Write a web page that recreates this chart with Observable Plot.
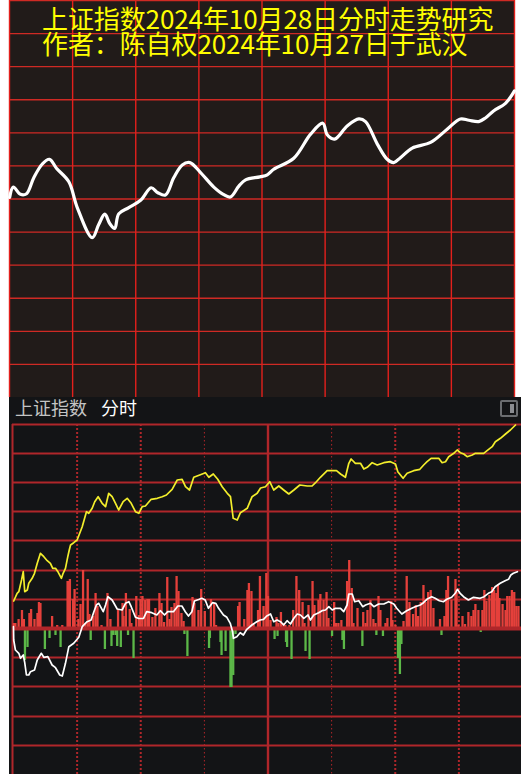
<!DOCTYPE html>
<html>
<head>
<meta charset="utf-8">
<script src="https://cdn.jsdelivr.net/npm/d3@7"></script>
<script src="https://cdn.jsdelivr.net/npm/@observablehq/plot@0.6"></script>
<style>
  html, body { margin: 0; padding: 0; background: #ffffff; }
  #wrap { position: relative; width: 521px; height: 774px; overflow: hidden; background: #ffffff; }
  #top { position: absolute; left: 0; top: 0; width: 521px; height: 397px; }
  #bottom { position: absolute; left: 9px; top: 397px; width: 512px; height: 377px; background: #131416; }
  #top svg, #bottom svg { position: absolute; left: 0; top: 0; }
  .title { position: absolute; left: 42px; color: #ffff00; font-family: "Noto Sans CJK SC", sans-serif;
           font-size: 26px; line-height: 26px; white-space: nowrap; z-index: 2; letter-spacing: -0.1px; }
  .hdr { position: absolute; top: 1px; font-family: "Noto Sans CJK SC", sans-serif; font-size: 18px;
         line-height: 18px; white-space: nowrap; z-index: 2; }
  #icon { position: absolute; left: 491px; top: 3px; width: 14px; height: 13px; border: 2px solid #6b6d70;
          border-radius: 2px; z-index: 2; }
  #icon div { position: absolute; right: 2px; top: 2px; width: 4px; height: 9px; background: #8a8c90; }
</style>
</head>
<body>
<div id="wrap">
  <div id="top">
    <div class="title" id="t1" style="top:5px"></div>
    <div class="title" id="t2" style="top:30px"></div>
  </div>
  <div id="bottom">
    <div class="hdr" id="h1" style="left:6px;color:#c4c4c4"></div>
    <div class="hdr" id="h2" style="left:92px;color:#ffffff"></div>
    <div id="icon"><div></div></div>
  </div>
</div>
<script>
// ---------- texts ----------
const titleLines = ["上证指数2024年10月28日分时走势研究", "作者：陈自权2024年10月27日于武汉"];
const headerLabels = ["上证指数", "分时"];

// ---------- top panel (hand-drawn forecast) ----------
// x: trading minute (0..240), y: grid level (0..12)
const topColMinutes = [0, 30, 60, 90, 120, 150, 180, 210, 240];
const topRowLevels = [1, 2, 3, 4, 5, 6, 7, 8, 9, 10, 11, 12];
const forecastSeries = [
  [0.1, 6.05], [1.8, 6.36], [5.2, 6.14], [8.1, 6.16], [11.6, 6.65], [15.5, 7.05], [19.0, 7.20],
  [22.3, 6.93], [28.2, 6.52], [32.2, 5.74], [39.3, 4.83], [42.4, 5.23], [45.3, 5.54], [47.7, 5.25],
  [50.0, 5.11], [51.9, 5.55], [56.7, 5.74], [62.3, 5.96], [67.3, 6.34], [70.5, 6.19], [74.1, 6.12],
  [78.1, 6.65], [82.1, 7.03], [85.7, 7.10], [90.8, 6.80], [97.1, 6.36], [101.6, 6.14], [105.0, 6.06],
  [109.0, 6.39], [112.2, 6.58], [119.0, 6.67], [122.5, 6.73], [125.6, 6.90], [135.1, 7.23],
  [143.1, 7.96], [148.9, 8.29], [151.0, 7.94], [154.5, 7.81], [160.5, 8.21], [166.0, 8.42],
  [169.2, 8.34], [174.8, 7.66], [179.5, 7.20], [182.6, 7.10], [185.8, 7.25], [191.4, 7.54],
  [200.1, 7.71], [208.0, 8.11], [214.3, 8.42], [218.3, 8.38], [223.0, 8.34], [226.2, 8.45],
  [230.2, 8.67], [235.7, 8.89], [240, 9.27]
];

// ---------- bottom panel (actual intraday screenshot) ----------
const bottomGridValues = [204, 175, 146, 117, 88, 58, 29, -29, -58, -88, -117];
const zeroLevel = [0];
const sessionOpen = [0];
const middayMinutes = [120];
const thickDotMinutes = [30, 60, 180, 210];
const thinDotMinutes = [90, 150];

const yellowSeries = [
  [0.1, 27.5], [1.7, 35.2], [2.5, 36.8], [3.8, 48.5], [4.6, 56.8], [5.3, 36.8], [6.5, 38.5],
  [7.2, 45.2], [8.8, 50.2], [9.9, 55.2], [11.2, 65.2], [12.7, 75.2], [14.3, 71.8], [15.9, 67.8],
  [17.4, 65.2], [18.5, 60.2], [19.8, 60.2], [21.1, 56.2], [22.6, 50.2], [23.4, 55.2], [24.5, 60.2],
  [25.6, 71.8], [26.3, 78.5], [26.9, 83.5], [28.4, 85.8], [30.0, 88.5], [32.4, 101.8], [34.4, 116.8],
  [35.5, 115.2], [37.1, 120.2], [38.3, 126.8], [39.9, 131.8], [41.8, 125.2], [43.4, 121.8],
  [44.9, 135.2], [46.5, 131.8], [48.1, 125.2], [49.6, 118.5], [51.7, 126.8], [53.6, 130.2],
  [55.5, 125.2], [57.5, 116.8], [59.1, 115.2], [60.7, 121.8], [62.2, 122.5], [64.9, 129.2],
  [67.8, 130.2], [70.1, 131.8], [72.1, 133.5], [74.8, 139.2], [77.2, 148.5], [79.5, 149.2],
  [81.1, 141.8], [83.0, 138.5], [85.0, 151.2], [87.8, 153.5], [90.5, 155.8], [92.1, 151.2],
  [94.2, 154.5], [96.3, 149.2], [98.4, 141.8], [100.8, 135.2], [102.3, 131.8], [103.6, 110.2],
  [105.5, 108.5], [107.0, 115.8], [110.2, 120.2], [112.5, 131.8], [114.9, 135.2], [116.5, 140.5],
  [118.8, 141.8], [120.8, 146.8], [122.7, 138.5], [125.1, 142.5], [127.4, 138.5], [129.8, 134.5],
  [132.2, 138.5], [135.0, 143.5], [138.5, 142.5], [140.8, 142.5], [142.4, 145.8], [144.7, 151.2],
  [147.9, 157.8], [152.3, 157.8], [154.2, 154.5], [156.5, 151.2], [158.1, 165.2], [159.2, 169.5],
  [161.2, 165.2], [163.6, 165.2], [165.2, 159.5], [166.8, 161.2], [169.1, 165.8], [171.5, 163.5],
  [174.6, 165.8], [177.7, 166.8], [180.1, 164.5], [181.2, 156.8], [183.7, 150.2], [185.6, 155.2],
  [188.7, 157.8], [191.6, 159.2], [193.4, 163.5], [195.0, 166.8], [196.9, 170.2], [200.5, 170.2],
  [202.1, 165.8], [203.7, 166.8], [205.2, 171.8], [207.6, 175.2], [209.2, 178.5], [210.7, 175.8],
  [212.3, 174.5], [213.9, 171.8], [216.3, 173.5], [217.8, 175.2], [221.7, 175.2], [223.3, 177.8],
  [225.7, 181.8], [227.2, 186.8], [229.6, 190.2], [232.0, 194.5], [234.3, 198.5], [236.7, 203.5]
];

const whiteSeries = [
  [0.0, 1.8], [0.1, -11.5], [0.9, -21.5], [2.5, -24.8], [3.3, -29.8], [4.6, -26.5], [5.3, -34.2],
  [6.1, -46.5], [7.2, -46.5], [8.0, -43.2], [9.9, -41.5], [11.2, -31.5], [13.1, -24.8], [14.3, -28.8],
  [16.2, -28.2], [18.2, -36.5], [19.8, -39.2], [21.8, -46.5], [23.0, -47.5], [24.5, -34.8],
  [26.1, -18.2], [28.4, -14.8], [30.8, -8.8], [32.4, 1.8], [34.7, 6.8], [36.6, 8.5], [37.9, 16.8],
  [39.1, 23.5], [40.2, 25.2], [42.3, 16.8], [43.4, 23.5], [44.5, 31.8], [46.5, 28.5], [48.9, 19.5],
  [51.2, 18.5], [52.8, 25.2], [54.4, 26.8], [55.5, 21.8], [57.5, 11.2], [59.1, 10.0], [61.3, 10.2],
  [62.8, 16.8], [65.2, 15.8], [67.6, 13.5], [69.2, 17.8], [71.2, 13.5], [72.7, 16.8], [75.4, 16.8],
  [77.5, 22.5], [79.4, 22.5], [81.0, 16.8], [82.5, 12.5], [84.1, 16.8], [85.3, 27.5], [87.6, 29.2],
  [88.8, 30.2], [90.4, 28.5], [91.9, 20.2], [93.8, 25.8], [95.4, 25.2], [96.7, 20.2], [99.0, 13.5],
  [100.6, 11.2], [102.2, 5.2], [103.3, -3.2], [103.7, -9.8], [105.3, -8.2], [106.9, -4.2],
  [108.4, -6.5], [110.0, -0.8], [112.4, 3.5], [114.7, 6.8], [116.3, 8.5], [117.9, 9.2], [119.4, 12.5],
  [121.2, 14.5], [122.7, 6.8], [124.3, 8.5], [125.9, 6.8], [127.4, 3.5], [129.0, 7.8], [130.6, 4.5],
  [132.2, 10.2], [133.8, 14.5], [135.3, 13.5], [136.9, 10.2], [138.9, 13.5], [140.0, 8.5],
  [141.6, 13.5], [143.9, 15.8], [145.5, 17.8], [147.1, 18.5], [148.7, 21.8], [150.3, 18.5],
  [151.8, 20.2], [154.2, 20.2], [155.7, 16.8], [157.3, 23.5], [158.1, 34.5], [159.7, 34.5],
  [160.9, 26.8], [162.8, 27.8], [164.7, 21.8], [166.0, 23.5], [168.3, 25.2], [169.9, 21.8],
  [172.2, 24.5], [174.6, 24.5], [176.9, 26.8], [179.3, 24.5], [180.7, 20.2], [183.1, 14.5],
  [185.4, 17.8], [187.8, 20.2], [189.4, 21.8], [191.8, 23.5], [193.3, 25.8], [194.9, 29.2],
  [197.2, 31.8], [198.8, 30.2], [200.8, 27.8], [202.7, 26.8], [204.3, 29.2], [206.6, 31.2],
  [208.3, 35.2], [209.3, 39.2], [210.6, 35.2], [212.2, 31.8], [214.5, 28.5], [216.9, 31.2],
  [220.0, 30.2], [221.9, 31.8], [223.9, 35.2], [225.5, 36.8], [227.1, 41.8], [229.5, 45.2],
  [231.8, 47.8], [233.4, 49.2], [234.5, 53.5], [235.7, 55.2], [237.6, 56.8]
];

// red (positive) and green (negative) strength bars: [minute, value]
const barSeries = [
  [0.2, 5], [0.9, 5], [2.4, 9], [4.0, 18], [4.9, 9], [7.5, 15], [8.3, 19], [9.9, 9], [11.3, 15],
  [12.0, 26], [12.7, 25], [18.2, 12], [20.6, 3], [23.0, 3], [25.5, 47], [26.2, 47], [26.6, 49],
  [28.1, 29], [28.8, 39], [30.6, 9], [31.6, 24], [32.8, 58], [33.9, 5], [35.0, 49], [35.8, 14],
  [37.6, 12], [38.7, 35], [39.6, 22], [41.5, 3], [44.3, 35], [45.7, 9], [49.3, 19], [51.4, 25],
  [51.9, 12], [53.0, 35], [54.8, 19], [55.6, 5], [57.9, 32], [59.2, 13], [59.9, 29], [60.8, 32],
  [62.1, 28], [63.2, 29], [63.9, 29], [65.5, 11], [66.9, 20], [68.8, 35], [69.8, 25], [71.0, 6],
  [72.5, 51], [73.6, 9], [74.5, 21], [75.9, 25], [76.9, 52], [77.8, 37], [79.2, 15], [80.2, 7],
  [84.4, 31], [85.3, 25], [87.2, 18], [88.5, 39], [90.2, 17], [93.1, 29], [94.6, 25], [95.5, 3],
  [105.9, 22], [106.6, 26], [108.8, 9], [110.3, 38], [111.0, 45], [112.2, 37], [113.2, 5],
  [115.3, 18], [116.2, 52], [117.9, 22], [119.2, 55], [120.0, 32], [121.2, 8], [124.0, 11],
  [124.9, 5], [126.1, 16], [127.3, 5], [128.2, 3], [130.1, 3], [131.9, 18], [133.4, 52], [134.7, 38],
  [136.3, 26], [137.2, 5], [139.1, 23], [141.0, 47], [141.9, 23], [143.8, 28], [144.7, 34],
  [146.2, 28], [147.6, 36], [148.5, 10], [151.2, 26], [152.1, 5], [153.2, 5], [154.6, 8],
  [157.3, 47], [158.3, 68], [159.5, 40], [160.3, 5], [162.2, 20], [164.9, 16], [166.0, 5],
  [166.9, 18], [168.3, 28], [169.7, 9], [170.7, 5], [172.1, 32], [173.0, 18], [175.4, 5],
  [176.3, 10], [178.1, 27], [178.7, 8], [180.1, 3], [183.9, 7], [185.4, 52], [186.1, 16],
  [186.7, 26], [188.4, 14], [189.7, 23], [190.8, 12], [192.0, 26], [193.3, 43], [194.2, 26],
  [195.5, 36], [196.7, 38], [198.0, 20], [201.1, 9], [203.2, 12], [204.1, 38], [204.9, 52],
  [206.5, 28], [208.4, 49], [208.9, 36], [209.8, 3], [211.7, 12], [212.9, 4], [214.5, 16],
  [215.9, 12], [216.9, 18], [217.8, 24], [219.2, 18], [221.1, 18], [222.0, 38], [223.0, 27],
  [224.4, 33], [225.7, 41], [226.6, 38], [227.7, 35], [228.4, 43], [229.1, 30], [230.6, 24],
  [232.0, 18], [232.8, 32], [233.9, 32], [235.0, 38], [236.1, 36], [237.1, 22], [238.1, 22],
  [5.4, -32], [6.6, -19], [14.8, -21], [17.0, -10], [19.8, -7], [22.2, -19], [36.4, -12],
  [43.1, -21], [46.2, -18], [46.9, -7], [48.1, -7], [48.9, -18], [50.6, -19], [54.0, -7],
  [56.6, -30], [80.6, -6], [82.0, -28], [92.2, -20], [92.6, -10], [97.6, -14], [98.1, -27],
  [100.0, -23], [102.3, -59], [102.8, -59], [103.6, -47], [104.7, -6], [123.1, -11], [124.5, -8],
  [128.5, -14], [129.0, -19], [131.1, -31], [137.7, -23], [139.6, -31], [150.2, -8], [155.1, -12],
  [155.8, -21], [164.5, -18], [171.1, -7], [174.2, -8], [181.3, -30], [182.2, -46], [182.9, -16],
  [201.8, -7], [220.3, -4]
];

// ---------- colors ----------
const topBg = "#211b19";
const topGridH = "#cf2a24";
const topGridV = "#e3201c";
const gridRed = "#b0262a";
const upRed = "#e5403b";
const downGreen = "#5cb848";
const yellow = "#f3ee2c";

// ---------- texts into DOM ----------
document.getElementById("t1").textContent = titleLines[0];
document.getElementById("t2").textContent = titleLines[1];
document.getElementById("h1").textContent = headerLabels[0];
document.getElementById("h2").textContent = headerLabels[1];

// ---------- top chart ----------
const topChart = Plot.plot({
  width: 521,
  height: 397,
  marginLeft: 9,
  marginRight: 7,
  marginTop: 0,
  marginBottom: 0,
  x: { domain: [0, 240], axis: null },
  y: { domain: [0, 12], axis: null },
  style: { background: "transparent", overflow: "visible" },
  marks: [
    Plot.frame({ fill: topBg }),
    Plot.ruleY(topRowLevels, { stroke: topGridH, strokeWidth: 1.4 }),
    Plot.ruleX(topColMinutes, { stroke: topGridV, strokeWidth: 1.4 }),
    Plot.line(forecastSeries, {
      x: d => d[0], y: d => d[1], stroke: "#ffffff", strokeWidth: 3.2,
      curve: "catmull-rom", strokeLinejoin: "round", strokeLinecap: "round"
    })
  ]
});
document.getElementById("top").appendChild(topChart);

// ---------- bottom chart ----------
const bottomChart = Plot.plot({
  width: 512,
  height: 377,
  marginLeft: 3,
  marginRight: 0,
  marginTop: 27,
  marginBottom: 0,
  x: { domain: [0, 240], range: [4, 513], axis: null },
  y: { domain: [-146, 204], axis: null },
  style: { background: "transparent", overflow: "visible" },
  marks: [
    Plot.ruleY(bottomGridValues, { stroke: gridRed, strokeWidth: 2 }),
    Plot.ruleX(sessionOpen, { stroke: gridRed, strokeWidth: 2, dx: -1 }),
    Plot.ruleX(middayMinutes, { stroke: gridRed, strokeWidth: 2.4 }),
    Plot.ruleX(thickDotMinutes, { stroke: gridRed, strokeWidth: 2, strokeDasharray: "2,2" }),
    Plot.ruleX(thinDotMinutes, { stroke: gridRed, strokeWidth: 1, strokeDasharray: "1.5,2.5" }),
    Plot.ruleX(barSeries, { filter: d => d[1] > 0, x: d => d[0], y1: 0, y2: d => d[1], stroke: upRed, strokeWidth: 2.3 }),
    Plot.ruleX(barSeries, { filter: d => d[1] < 0, x: d => d[0], y1: 0, y2: d => d[1], stroke: downGreen, strokeWidth: 2.3 }),
    Plot.ruleY(zeroLevel, { stroke: gridRed, strokeWidth: 4 }),
    Plot.line(yellowSeries, { x: d => d[0], y: d => d[1], stroke: yellow, strokeWidth: 1.7 }),
    Plot.line(whiteSeries, { x: d => d[0], y: d => d[1], stroke: "#ffffff", strokeWidth: 1.7 })
  ]
});
document.getElementById("bottom").appendChild(bottomChart);
</script>
</body>
</html>
